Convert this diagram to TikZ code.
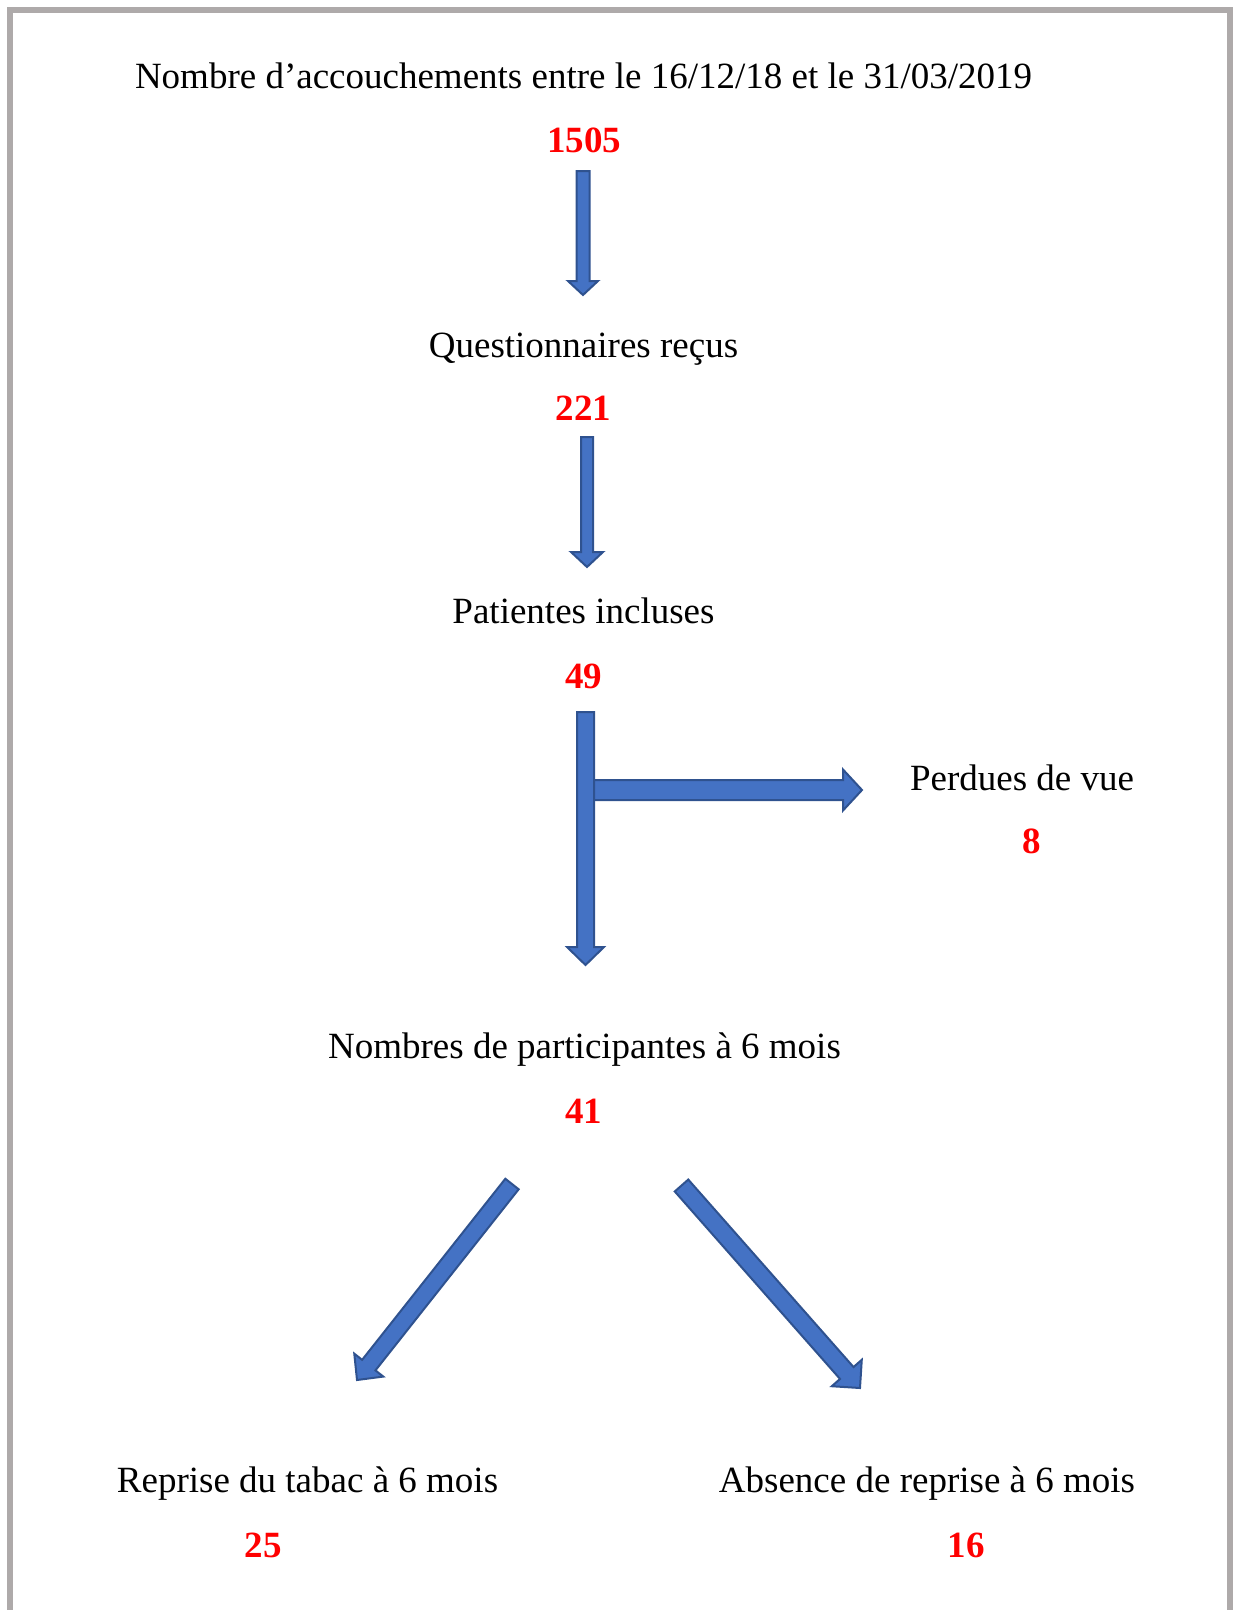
\documentclass[tikz,border=0pt]{standalone}
\usepackage{fontspec}
\setmainfont{Liberation Serif}
\usetikzlibrary{calc}

\definecolor{arrowfill}{HTML}{4472C4}
\definecolor{arrowline}{HTML}{2F528F}
\definecolor{framegray}{HTML}{AEAAAA}

\tikzset{
  txt/.style={anchor=base, inner sep=0pt, font=\fontsize{37}{44}\selectfont},
  num/.style={anchor=base, inner sep=0pt, text=red, font=\fontsize{37}{44}\selectfont\bfseries},
  flow/.style={fill=arrowfill, draw=arrowline, line width=2pt, line join=miter},
}

% block arrow: tail, tip, body half width, head half width, head length
\newcommand{\flowarrow}[5]{%
  \coordinate (hb) at ($(#2)!#5!(#1)$);
  \draw[flow] ($(#1)!#3!90:(#2)$) -- ($(hb)!#3!90:(#2)$) -- ($(hb)!#4!90:(#2)$)
    -- (#2) -- ($(hb)!#4!-90:(#2)$) -- ($(hb)!#3!-90:(#2)$) -- ($(#1)!#3!-90:(#2)$) -- cycle;
}

\begin{document}
\begin{tikzpicture}[x=1pt, y=-1pt]
  \useasboundingbox (0,0) rectangle (1235,1610);
  \draw[framegray, line width=6pt] (10,1630) -- (10,10) -- (1230,10) -- (1230,1630);

  \node[txt] (births) at (583.5, 88) {Nombre d’accouchements entre le 16/12/18 et le 31/03/2019};
  \node[num] (n1505) at (584, 152) {1505};

  \node[txt] (recus) at (583.5, 357) {Questionnaires reçus};
  \node[num] (n221) at (583.5, 420) {221};

  \node[txt] (incl) at (583.5, 623) {Patientes incluses};
  \node[num] (n49) at (583.5, 688) {49};

  \node[txt] (lost) at (1022, 790) {Perdues de vue};
  \node[num] (n8) at (1032, 853) {8};

  \node[txt] (part) at (584.5, 1058) {Nombres de participantes à 6 mois};
  \node[num] (n41) at (583.5, 1123) {41};

  \node[txt] (smoke) at (307.5, 1492) {Reprise du tabac à 6 mois};
  \node[num] (n25) at (263, 1557) {25};
  \node[txt] (nosmoke) at (927, 1492) {Absence de reprise à 6 mois};
  \node[num] (n16) at (966, 1557) {16};

  % arrow ends
  \coordinate (a1s) at (583, 171);
  \coordinate (a1e) at (583, 295);
  \coordinate (a2s) at (587, 437);
  \coordinate (a2e) at (587, 567);
  \coordinate (a3s) at (585.5, 712);
  \coordinate (a3e) at (585.5, 965);
  \coordinate (split) at (585.5, 790);
  \coordinate (lostin) at (862, 790);
  \coordinate (ls) at (512, 1184);
  \coordinate (le) at (357, 1380);
  \coordinate (rs) at (681.5, 1185.5);
  \coordinate (re) at (860, 1388);

  \flowarrow{a1s}{a1e}{6.5pt}{15pt}{14pt}
  \flowarrow{a2s}{a2e}{6pt}{16pt}{15pt}
  \flowarrow{split}{lostin}{10pt}{20.5pt}{19pt}
  \flowarrow{a3s}{a3e}{8.5pt}{18.5pt}{18pt}
  \flowarrow{ls}{le}{8.5pt}{18.5pt}{19pt}
  \flowarrow{rs}{re}{9pt}{20pt}{20pt}
\end{tikzpicture}
\end{document}
